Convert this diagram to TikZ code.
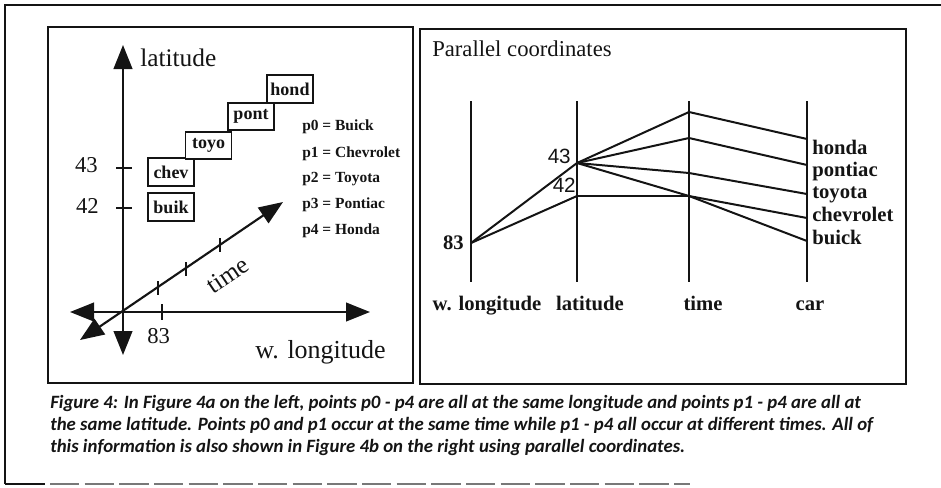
\documentclass[tikz,border=0pt]{standalone}
\usepackage{fontspec}
\setmainfont{Liberation Serif}
\newfontfamily\capfont{Carlito}
\newfontfamily\numfont{Liberation Sans}
\usepackage{tikz}
\usetikzlibrary{arrows.meta, calc}
\definecolor{inkblack}{RGB}{20, 20, 20}
\definecolor{scangrey}{RGB}{120, 120, 120}

\begin{document}
\begin{tikzpicture}[x=0.75pt, y=-0.75pt, >={Triangle[length=18pt, width=14pt]}, every node/.style={inner sep=0pt, text=inkblack},
    axisline/.style={draw=inkblack, line width=1.6pt, <->},
    tickline/.style={draw=inkblack, line width=1.4pt},
    carbox/.style={draw=inkblack, fill=white, line width=1.3pt, minimum width=34.5pt, minimum height=20.5pt, font=\fontsize{13.5}{16}\selectfont\bfseries},
    legend/.style={anchor=base west, font=\fontsize{11.6}{14}\selectfont\bfseries},
    paxis/.style={draw=inkblack, line width=1.6pt},
    pline/.style={draw=inkblack, line width=1.5pt},
    plabel/.style={font=\fontsize{15.5}{18}\selectfont\bfseries},
    caption/.style={anchor=base west, font=\capfont\fontsize{14.1}{16.5}\selectfont\bfseries\itshape}]
    \useasboundingbox (0,0) rectangle (941,487);

    % Outer frame (scanned page edge)
    \draw [inkblack, line width=0.9pt] (941,5) -- (5,5) -- (5,484);
    \draw [inkblack, line width=1pt] (5,484) -- (45,484);
    \draw [scangrey, line width=1pt, dash pattern=on 22pt off 4pt] (50,484) -- (690,484);

    % Panel frames
    \draw [inkblack, line width=1.6pt] (48,27) rectangle (413,383);
    \draw [inkblack, line width=1.6pt] (420,29) rectangle (906,384);

    % Left panel: 3D axes
    \coordinate (origin) at (123,312);
    \coordinate (latTip) at (123,45);
    \coordinate (latEnd) at (123,355);
    \coordinate (lonTip) at (370,312);
    \coordinate (lonEnd) at (70,312);
    \coordinate (timeTip) at (283,202);
    \coordinate (timeEnd) at (80,340);
    \draw [axisline] (latEnd) -- (latTip);
    \draw [axisline] (lonEnd) -- (lonTip);
    \draw [axisline] (timeEnd) -- (timeTip);

    % Ticks
    \draw [tickline] (116,168) -- (132,168);
    \draw [tickline] (116,208) -- (132,208);
    \draw [tickline] (162,304) -- (162,320);
    \draw [tickline] (158,281) -- (158,295);
    \draw [tickline] (186,262) -- (186,276);
    \draw [tickline] (220,238) -- (220,252);

    % Axis labels
    \node [anchor=base west, font=\fontsize{19}{22}\selectfont] (latlab) at (140,66) {latitude};
    \node [anchor=base west, font=\fontsize{19.5}{22}\selectfont] (lonlab) at (255,358) {w. longitude};
    \node [font=\fontsize{19}{22}\selectfont, rotate=34] (timelab) at (228,275) {time};
    \node [anchor=base east, font=\fontsize{17}{20}\selectfont] (n43) at (98,172) {43};
    \node [anchor=base east, font=\fontsize{17}{20}\selectfont] (n42) at (99,213) {42};
    \node [anchor=base west, font=\fontsize{17}{20}\selectfont] (n83) at (147,343) {83};

    % Car boxes
    \node [carbox] (buik) at (171,207) {buik};
    \node [carbox] (chev) at (171,172) {chev};
    \node [carbox] (toyo) at (208.5,145.5) {toyo};
    \node [carbox] (pont) at (251,116.5) {pont};
    \node [carbox] (hond) at (290,89) {hond};

    % Legend
    \node [legend] (leg0) at (302,130) {p0 = Buick};
    \node [legend] (leg1) at (302,157) {p1 = Chevrolet};
    \node [legend] (leg2) at (302,182) {p2 = Toyota};
    \node [legend] (leg3) at (302,208) {p3 = Pontiac};
    \node [legend] (leg4) at (302,234) {p4 = Honda};

    % Right panel: parallel coordinates
    \node [anchor=base west, font=\fontsize{17}{20}\selectfont] (ptitle) at (432,56) {Parallel coordinates};

    \draw [paxis] (471,101) -- (471,282);
    \draw [paxis] (577,101) -- (577,282);
    \draw [paxis] (689,101) -- (689,282);
    \draw [paxis] (807,101) -- (807,282);

    \node [plabel, anchor=base] (lonname) at (487,310) {w. longitude};
    \node [plabel, anchor=base] (latname) at (590,310) {latitude};
    \node [plabel, anchor=base] (timename) at (703,310) {time};
    \node [plabel, anchor=base] (carname) at (810,310) {car};

    \coordinate (lon83) at (471,243);
    \coordinate (lat43) at (577,163);
    \coordinate (lat42) at (577,196);
    \coordinate (tHon) at (689,112);
    \coordinate (tPon) at (689,138);
    \coordinate (tToy) at (689,173);
    \coordinate (tChe) at (689,196);
    \coordinate (cHon) at (807,139);
    \coordinate (cPon) at (807,165);
    \coordinate (cToy) at (807,194);
    \coordinate (cChe) at (807,218);
    \coordinate (cBui) at (807,241);

    \draw [pline] (lon83) -- (lat43);
    \draw [pline] (lon83) -- (lat42);
    \draw [inkblack, line width=1pt] (lat42) -- (tChe);
    \draw [pline] (lat43) -- (tHon) -- (cHon);
    \draw [pline] (lat43) -- (tPon) -- (cPon);
    \draw [pline] (lat43) -- (tToy) -- (cToy);
    \draw [pline] (lat43) -- (tChe) -- (cChe);
    \draw [pline] (tChe) -- (cBui);

    \node [plabel, anchor=base east] (p83) at (464,249) {83};
    \node [anchor=base east, font=\numfont\fontsize{15.5}{18}\selectfont] (p43) at (571,163) {43};
    \node [anchor=base east, font=\numfont\fontsize{15.5}{18}\selectfont] (p42) at (576,192) {42};

    \node [plabel, anchor=base west] (honda) at (812,154) {honda};
    \node [plabel, anchor=base west] (pontiac) at (812,176) {pontiac};
    \node [plabel, anchor=base west] (toyota) at (812,198) {toyota};
    \node [plabel, anchor=base west] (chevrolet) at (812,221) {chevrolet};
    \node [plabel, anchor=base west] (buick) at (812,244) {buick};

    % Caption
    \node [caption] (cap1) at (50,408) {Figure 4: In Figure 4a on the left, points p0 - p4 are all at the same longitude and points p1 - p4 are all at};
    \node [caption] (cap2) at (50,430) {the same latitude. Points p0 and p1 occur at the same time while p1 - p4 all occur at different times. All of};
    \node [caption] (cap3) at (50,452) {this information is also shown in Figure 4b on the right using parallel coordinates.};
\end{tikzpicture}
\end{document}
